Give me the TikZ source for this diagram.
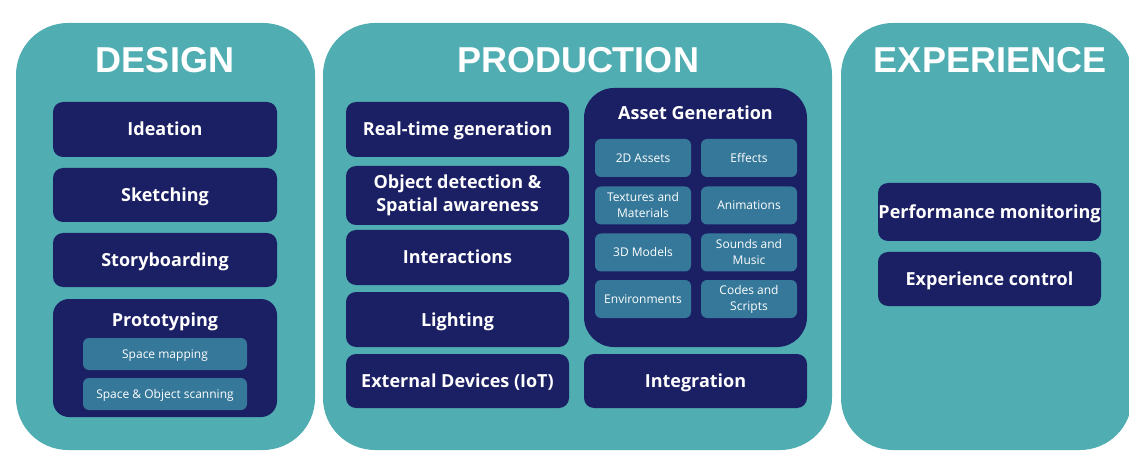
\documentclass[tikz,border=0pt]{standalone}
\usepackage{fontspec}
\setmainfont{Open Sans}
\newfontfamily\titlefont{Liberation Sans}
\definecolor{panelteal}{HTML}{50ADB1}
\definecolor{navybox}{HTML}{1B1F63}
\definecolor{steelbox}{HTML}{357899}
\tikzset{
  panel/.style={fill=panelteal, rounded corners=52pt, inner sep=0pt},
  heading/.style={text=white, inner sep=0pt, font=\titlefont\bfseries\fontsize{36}{40}\selectfont},
  navy/.style={fill=navybox, rounded corners=10pt, inner sep=0pt, minimum width=223pt, text=white, align=center, font=\bfseries\fontsize{18}{23}\selectfont},
  oneline/.style={text height=13pt, text depth=0pt},
  steel/.style={fill=steelbox, rounded corners=6pt, inner sep=0pt, text=white, align=center, font=\fontsize{12}{16}\selectfont},
  steelone/.style={text height=8.6pt, text depth=0pt},
  grouplabel/.style={text=white, inner sep=0pt, text height=13pt, text depth=0pt, font=\bfseries\fontsize{18}{23}\selectfont}
}
\begin{document}
\begin{tikzpicture}[x=1pt,y=-1pt]
\useasboundingbox (0,0) rectangle (1129,454);
\clip (0,0) rectangle (1129,454);
% panels
\node[panel, minimum width=299pt, minimum height=427pt] (design) at (165.5,236.5) {};
\node[panel, minimum width=509pt, minimum height=427pt] (production) at (577.5,236.5) {};
\node[panel, minimum width=291pt, minimum height=427pt] (experience) at (986.5,236.5) {};
\node[heading] (designtitle) at (165,60) {DESIGN};
\node[heading] (productiontitle) at (578,60) {PRODUCTION};
\node[heading] (experiencetitle) at (990,60) {EXPERIENCE};
% design column
\node[navy, oneline, minimum width=224pt, minimum height=55pt] (ideation) at (165,129.5) {Ideation};
\node[navy, oneline, minimum width=224pt, minimum height=54pt] (sketching) at (165,195) {Sketching};
\node[navy, oneline, minimum width=224pt, minimum height=54pt] (storyboarding) at (165,260) {Storyboarding};
\node[navy, rounded corners=16pt, minimum width=224pt, minimum height=118pt] (prototyping) at (165,358) {};
\node[grouplabel] (prototypinglabel) at (165,320) {Prototyping};
\node[steel, steelone, minimum width=164pt, minimum height=32pt] (spacemapping) at (165,354) {Space mapping};
\node[steel, steelone, minimum width=164pt, minimum height=32pt] (scanning) at (165,394) {Space \& Object scanning};
% production left column
\node[navy, oneline, minimum height=55pt] (realtime) at (457.5,129.5) {Real-time generation};
\node[navy, minimum height=59pt] (objdetect) at (457.5,195.5) {Object detection \&\\Spatial awareness};
\node[navy, oneline, minimum height=55pt] (interactions) at (457.5,257.5) {Interactions};
\node[navy, oneline, minimum height=55pt] (lighting) at (457.5,319.5) {Lighting};
\node[navy, oneline, minimum height=54pt] (external) at (457.5,381) {External Devices (IoT)};
% asset generation
\node[navy, rounded corners=30pt, minimum height=259pt] (asset) at (695.5,217.5) {};
\node[grouplabel] (assetlabel) at (695.5,113) {Asset Generation};
\node[steel, steelone, minimum width=96pt, minimum height=38pt] (twod) at (643,158) {2D Assets};
\node[steel, steelone, minimum width=96pt, minimum height=38pt] (effects) at (749,158) {Effects};
\node[steel, minimum width=96pt, minimum height=38pt] (textures) at (643,205.5) {Textures and\\Materials};
\node[steel, steelone, minimum width=96pt, minimum height=38pt] (animations) at (749,205.5) {Animations};
\node[steel, steelone, minimum width=96pt, minimum height=38pt] (threed) at (643,252.5) {3D Models};
\node[steel, minimum width=96pt, minimum height=38pt] (sounds) at (749,252.5) {Sounds and\\Music};
\node[steel, steelone, minimum width=96pt, minimum height=38pt] (environments) at (643,299) {Environments};
\node[steel, minimum width=96pt, minimum height=38pt] (codes) at (749,299) {Codes and\\Scripts};
\node[navy, oneline, minimum height=54pt] (integration) at (695.5,381) {Integration};
% experience column
\node[navy, oneline, minimum height=58pt] (performance) at (989.5,212) {Performance monitoring};
\node[navy, oneline, minimum height=54pt] (control) at (989.5,279) {Experience control};
\end{tikzpicture}
\end{document}
